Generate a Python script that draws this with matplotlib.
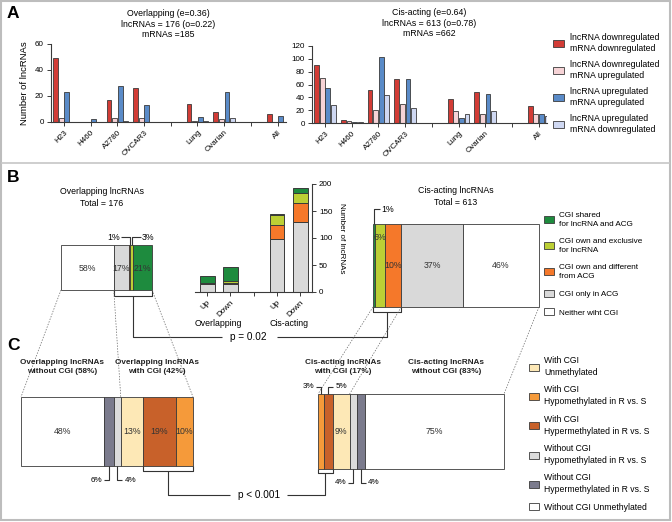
import numpy as np
import matplotlib
matplotlib.use('Agg')
import matplotlib.pyplot as plt
from matplotlib.patches import Patch, Rectangle

plt.rcParams['font.family'] = ['Liberation Sans', 'DejaVu Sans']

# ---- panel A : regulated lncRNA / mRNA pairs per cell line
a_labels = ['H23', 'H460', 'A2780', 'OVCAR3', 'Lung', 'Ovarian', 'All']
a_pos = [0, 1, 2, 3, 5, 6, 8]
ovl_down_down = [49, 0, 17, 26, 14, 8, 6]
ovl_down_up = [3, 0, 3, 3, 1, 2, 0]
ovl_up_up = [23, 2, 28, 13, 4, 23, 5]
ovl_up_down = [0, 0, 1, 0, 1, 3, 0]
cis_down_down = [91, 4, 52, 69, 37, 48, 26]
cis_down_up = [70, 3, 20, 30, 19, 14, 14]
cis_up_up = [55, 2, 103, 69, 8, 45, 14]
cis_up_down = [28, 1, 43, 23, 14, 19, 11]
a_legend = ['lncRNA downregulated\nmRNA downregulated',
            'lncRNA downregulated\nmRNA upregulated',
            'lncRNA upregulated\nmRNA upregulated',
            'lncRNA upregulated\nmRNA downregulated']
a_colors = ['#d23c36', '#f6d3d6', '#5a8bc8', '#cfd8f2']
ovl_title = 'Overlapping (e=0.36)\nlncRNAs = 176 (o=0.22)\nmRNAs =185'
cis_title = 'Cis-acting (e=0.64)\nlncRNAs = 613 (o=0.78)\nmRNAs =662'

# ---- panel B : CGI status (legend order)
b_legend = ['CGI shared\nfor lncRNA and ACG', 'CGI own and exclusive\nfor lncRNA',
            'CGI own and different\nfrom ACG', 'CGI only in ACG', 'Neither wiht CGI']
b_colors = ['#1e8b3e', '#bccf35', '#f5782a', '#d9d9d9', '#ffffff']
b_ovl_order = [4, 3, 2, 1, 0]          # left -> right in the bar
b_ovl_pct = [58, 17, 1, 3, 21]
b_ovl_text = ['58%', '17%', None, None, '21%']
b_cis_order = [0, 1, 2, 3, 4]
b_cis_pct = [1, 6, 10, 37, 46]
b_cis_text = [None, '6%', '10%', '37%', '46%']

s_ticks = ['Up', 'Down', '', 'Up', 'Down']
s_pos = [0, 1, 3, 4]
s_only_acg = [15, 15, 98, 130]
s_own_diff = [2, 1, 26, 35]
s_own_excl = [0, 4, 19, 18]
s_shared = [12, 26, 1, 9]

# ---- panel C : methylation status
c_legend = ['With CGI\nUnmethylated', 'With CGI\nHypomethylated in R vs. S',
            'With CGI\nHypermethylated in R vs. S', 'Without CGI\nHypomethylated in R vs. S',
            'Without CGI\nHypermethylated in R vs. S', 'Without CGI Unmethylated']
c_colors = ['#fde8b6', '#f59a3a', '#c8612a', '#dcdcdc', '#7b7b8d', '#ffffff']
c_ovl_order = [5, 4, 3, 0, 2, 1]
c_ovl_pct = [48, 6, 4, 13, 19, 10]
c_ovl_text = ['48%', None, None, '13%', '19%', '10%']
c_cis_order = [1, 2, 0, 3, 4, 5]
c_cis_pct = [3, 5, 9, 4, 4, 75]
c_cis_text = [None, None, '9%', None, None, '75%']

W, H = 672, 522
fig = plt.figure(figsize=(W / 100, H / 100), dpi=100)
ov = fig.add_axes([0, 0, 1, 1], zorder=10)
ov.set_xlim(0, W); ov.set_ylim(H, 0); ov.axis('off')

EDGE = '#3a3a3a'
FS = 6.3


def box(x0, y0, x1, y1):
    return fig.add_axes([x0 / W, 1 - y1 / H, (x1 - x0) / W, (y1 - y0) / H])


def px(ax, x, y):
    return ov.transData.inverted().transform(ax.transData.transform((x, y)))


def line(pts, **kw):
    pts = np.array(pts)
    ov.plot(pts[:, 0], pts[:, 1], color=kw.pop('color', '#333333'), lw=kw.pop('lw', 0.8),
            solid_capstyle='butt', **kw)


def style_axes(ax):
    for s in ax.spines.values():
        s.set_linewidth(0.8); s.set_color(EDGE)
    ax.tick_params(width=0.7, length=3, labelsize=5.8, color=EDGE, pad=2)


# ================= panel A
def grouped(ax, series, ymax, step, title):
    offs = [-0.315, -0.105, 0.105, 0.315]
    for vals, col, off in zip(series, a_colors, offs):
        ax.bar(np.array(a_pos) + off, vals, width=0.18, color=col, edgecolor=EDGE, linewidth=0.6)
    ax.set_xlim(-0.5, 8.3); ax.set_ylim(0, ymax)
    ax.set_yticks(np.arange(0, ymax + 1, step))
    ax.set_xticks(range(9))
    names = dict(zip(a_pos, a_labels))
    ax.set_xticklabels([names.get(i, '') for i in range(9)], rotation=45, ha='right',
                       rotation_mode='anchor')
    ax.spines['top'].set_visible(False); ax.spines['right'].set_visible(False)
    style_axes(ax)
    ax.set_title(title, fontsize=FS, linespacing=1.2, pad=5)


axA1 = box(50.6, 44, 285.6, 122)
grouped(axA1, [ovl_down_down, ovl_down_up, ovl_up_up, ovl_up_down], 60, 20, ovl_title)
axA1.set_ylabel('Number of lncRNAs', fontsize=6.8, labelpad=4)
axA2 = box(311.7, 46, 546.6, 123)
grouped(axA2, [cis_down_down, cis_down_up, cis_up_up, cis_up_down], 120, 20, cis_title)
axA2.set_title(cis_title, fontsize=FS, linespacing=1.2, pad=7)

legA = fig.legend([Patch(facecolor=c, edgecolor=EDGE, lw=0.6) for c in a_colors], a_legend,
                  loc='upper left', bbox_to_anchor=(553 / W, 1 - 33 / H), frameon=False,
                  fontsize=FS, handlelength=1.2, handleheight=0.9, handletextpad=0.7,
                  labelspacing=0.75, borderpad=0, borderaxespad=0)
for t in legA.get_texts():
    t.set_linespacing(1.35)


# ================= panel B
def hbar(ax, order, pct, colors, texts, ty=0.5):
    left = 0
    for k, p, t in zip(order, pct, texts):
        ax.barh(0.5, p, left=left, height=1, color=colors[k], edgecolor=EDGE,
                linewidth=0.6, clip_on=False)
        if t:
            ax.text(left + p / 2, ty if isinstance(ty, float) else ty.get(t, 0.5), t,
                    ha='center', va='center', fontsize=FS, color='#333333', zorder=6)
        left += p
    ax.set_xlim(0, 100); ax.set_ylim(0, 1); ax.axis('off')


axBo = box(61, 245, 152, 290)
hbar(axBo, b_ovl_order, b_ovl_pct, b_colors, b_ovl_text, ty=0.47)
axBc = box(373, 224, 539, 307)
hbar(axBc, b_cis_order, b_cis_pct, b_colors, b_cis_text, ty={'6%': 0.84})

ov.text(*px(axBo, 45, 1.0) - (0, 58), 'Overlapping lncRNAs\nTotal = 176', ha='center',
        va='top', fontsize=FS, linespacing=1.4)
ov.text(*px(axBc, 50, 1.0) - (0, 38), 'Cis-acting lncRNAs\nTotal = 613', ha='center',
        va='top', fontsize=FS, linespacing=1.4)

# small labels above overlapping bar
top = px(axBo, 0, 1)[1]
xo = px(axBo, 75.5, 1)[0]
xg = px(axBo, 77, 1)[0] + 1
line([(xo - 9, top - 8), (xo, top - 8), (xo, top)])
line([(xg, top), (xg, top - 8), (xg + 9, top - 8)])
ov.text(xo - 10, top - 8, '1%', ha='right', va='center', fontsize=FS)
ov.text(xg + 10, top - 8, '3%', ha='left', va='center', fontsize=FS)
# 1% above cis bar
top_c = px(axBc, 0, 1)[1]
xs = px(axBc, 0.5, 1)[0]
line([(xs, top_c), (xs, top_c - 15), (xs + 6, top_c - 15)])
ov.text(xs + 7, top_c - 15, '1%', ha='left', va='center', fontsize=FS)


def bracket(ax, x0, x1, depth=5):
    (l, b), (r, _) = px(ax, x0, 0), px(ax, x1, 0)
    line([(l, b), (l, b + depth), (r, b + depth), (r, b)])
    return (l + r) / 2, b + depth


# p = 0.02 connector
mx, by = bracket(axBo, 58, 100, 6)
line([(mx, by), (mx, 337), (222, 337)])
ov.text(230, 337, 'p = 0.02', ha='left', va='center', fontsize=7.2)
cx, cy = bracket(axBc, 0, 17, 5)
line([(277, 337), (cx, 337), (cx, cy)])

# stacked counts
axBs = box(195, 184, 312, 292)
bottom = np.zeros(4)
for vals, k in zip([s_only_acg, s_own_diff, s_own_excl, s_shared], [3, 2, 1, 0]):
    axBs.bar(s_pos, vals, bottom=bottom, width=0.64, color=b_colors[k], edgecolor=EDGE,
             linewidth=0.7)
    bottom += vals
axBs.set_xlim(-0.52, 4.5); axBs.set_ylim(0, 200)
axBs.set_yticks([0, 50, 100, 150, 200])
axBs.yaxis.tick_right(); axBs.yaxis.set_label_position('right')
axBs.spines['top'].set_visible(False); axBs.spines['left'].set_visible(False)
axBs.set_xticks(range(5))
axBs.set_xticklabels(s_ticks, rotation=45, ha='right', rotation_mode='anchor')
style_axes(axBs)
axBs.set_ylabel('Number of lncRNAs', rotation=270, fontsize=5.8, labelpad=9)
xt = axBs.get_xaxis_transform()
axBs.text(0.5, -0.29, 'Overlapping', transform=xt, ha='center', va='center', fontsize=FS)
axBs.text(3.5, -0.29, 'Cis-acting', transform=xt, ha='center', va='center', fontsize=FS)

legB = fig.legend([Patch(facecolor=c, edgecolor=EDGE, lw=0.6) for c in b_colors], b_legend,
                  loc='upper left', bbox_to_anchor=(544 / W, 1 - 212 / H), frameon=False,
                  fontsize=5.9, handlelength=1.2, handleheight=0.9, handletextpad=0.6,
                  labelspacing=1.25, borderpad=0, borderaxespad=0)
for t in legB.get_texts():
    t.set_linespacing(1.35)

# ================= panel C
axCo = box(21, 397, 193, 466)
hbar(axCo, c_ovl_order, c_ovl_pct, c_colors, c_ovl_text)
axCc = box(318, 394, 504, 469)
hbar(axCc, c_cis_order, c_cis_pct, c_colors, c_cis_text)

# dashed zoom lines from B to C
for axb, axc, xs_ in [(axBo, axCo, [0, 58, 100]), (axBc, axCc, [0, 17, 100])]:
    for xv in xs_:
        p0, p1 = px(axb, xv, 0), px(axc, xv, 1)
        line([p0, p1], lw=0.5, color='#666666', ls=(0, (2, 2)))

titles = [(axCo, 24, 'Overlapping lncRNAs\nwithout CGI (58%)'),
          (axCo, 79, 'Overlapping lncRNAs\nwith CGI (42%)'),
          (axCc, 13.5, 'Cis-acting lncRNAs\nwith CGI (17%)'),
          (axCc, 69, 'Cis-acting lncRNAs\nwithout CGI (83%)')]
for ax, xv, t in titles:
    x = px(ax, xv, 1)[0]
    ov.text(x, 367, t, ha='center', va='center', fontsize=5.9, fontweight='bold',
            color='#222222', linespacing=1.3)


def tag(ax, xv, side, up, t):
    x, y = px(ax, xv, 1 if up else 0)
    yy = y - 7 if up else y + 14
    xx = x - 5 if side == 'l' else x + 5
    line([(x, y), (x, yy), (xx, yy)])
    ov.text(xx - 1.5 if side == 'l' else xx + 2, yy, t, ha='right' if side == 'l' else 'left',
            va='center', fontsize=5.8)


tag(axCo, 51, 'l', False, '6%')
tag(axCo, 56, 'r', False, '4%')
tag(axCc, 1.5, 'l', True, '3%')
tag(axCc, 5.5, 'r', True, '5%')
tag(axCc, 19, 'l', False, '4%')
tag(axCc, 23, 'r', False, '4%')

# p < 0.001 connector
mx, by = bracket(axCo, 71, 100, 5)
line([(mx, by), (mx, 495), (230, 495)])
ov.text(238, 495, 'p < 0.001', ha='left', va='center', fontsize=7.2)
cx, cy = bracket(axCc, 0, 8, 4)
line([(287, 495), (cx, 495), (cx, cy)])

legC = fig.legend([Patch(facecolor=c, edgecolor=EDGE, lw=0.6) for c in c_colors], c_legend,
                  loc='upper left', bbox_to_anchor=(529 / W, 1 - 356 / H), frameon=False,
                  fontsize=6.2, handlelength=1.2, handleheight=0.9, handletextpad=0.6,
                  labelspacing=0.95, borderpad=0, borderaxespad=0)
for t in legC.get_texts():
    t.set_linespacing(1.45)

# frame, separator and panel letters
ov.add_patch(Rectangle((1, 1), W - 3, H - 3, fill=False, ec='#bdbdbd', lw=1.5))
line([(1, 163), (W - 2, 163)], color='#c6c6c6', lw=1.2)
for x, y, t in [(7, 13, 'A'), (7, 178, 'B'), (7, 346, 'C')]:
    ov.text(x, y, t, fontsize=12.5, fontweight='bold', va='center', ha='left')

fig.savefig('out.png', dpi=100)
